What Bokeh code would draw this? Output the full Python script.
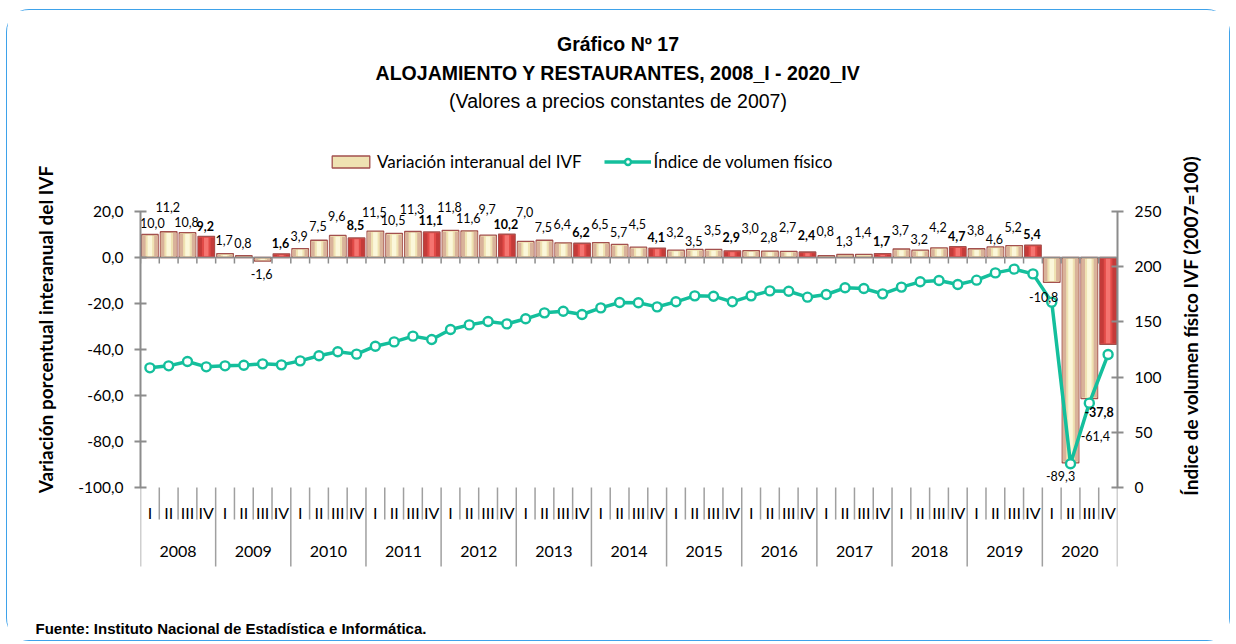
import math
from bokeh.plotting import figure
from bokeh.models import (Range1d, LinearAxis, FixedTicker, ColumnDataSource,
                          Legend, LegendItem, Title, Label)
from bokeh.core.properties import value
from bokeh.embed import file_html
from bokeh.resources import INLINE

# ---------------- data ----------------
years = ["2008", "2009", "2010", "2011", "2012", "2013", "2014",
         "2015", "2016", "2017", "2018", "2019", "2020"]
quarters = ["I", "II", "III", "IV"]

variacion_ivf = [10.0, 11.2, 10.8, 9.2,
                 1.7, 0.8, -1.6, 1.6,
                 3.9, 7.5, 9.6, 8.5,
                 11.5, 10.5, 11.3, 11.1,
                 11.8, 11.6, 9.7, 10.2,
                 7.0, 7.5, 6.4, 6.2,
                 6.5, 5.7, 4.5, 4.1,
                 3.2, 3.5, 3.5, 2.9,
                 3.0, 2.8, 2.7, 2.4,
                 0.8, 1.3, 1.4, 1.7,
                 3.7, 3.2, 4.2, 4.7,
                 3.8, 4.6, 5.2, 5.4,
                 -10.8, -89.3, -61.4, -37.8]

indice_ivf = [108.4, 110.2, 114.1, 109.3,
              110.2, 110.8, 112.0, 111.1,
              114.7, 119.3, 122.9, 120.8,
              128.0, 131.9, 137.1, 134.1,
              143.1, 147.3, 150.4, 148.2,
              152.8, 158.2, 159.7, 156.7,
              162.7, 167.6, 167.3, 163.6,
              168.2, 173.6, 173.3, 168.2,
              173.6, 178.1, 177.8, 172.4,
              174.8, 180.9, 180.3, 175.4,
              181.5, 186.3, 187.5, 183.9,
              187.8, 194.4, 197.8, 193.5,
              167.9, 21.5, 76.4, 120.5]

left_ticks = [-100, -80, -60, -40, -20, 0, 20]
left_tick_labels = ["-100,0", "-80,0", "-60,0", "-40,0", "-20,0", "0,0", "20,0"]
right_ticks = [0, 50, 100, 150, 200, 250]

# label placement tweaks (pixels above the bar end; negative = below)
label_dy = [12, 24.5, 10.5, 10,
            14, 12.5, -12.6, 10.6,
            13, 14, 19, 13,
            19, 13.5, 22.7, 12,
            23, 12.6, 26, 10,
            29, 13, 19, 11,
            18.7, 12, 23, 11,
            18, 8, 19, 13.6,
            23, 14, 24, 16.5,
            25, 14, 22, 13,
            19, 11, 20.6, 11,
            19, 8, 19, 11,
            -15, -13, -37, -68]
label_dx = [2.5] + [-1] * 47 + [-8, -10, 6, -9]

# ---------------- layout ----------------
OX, OY = 7, 10              # page position of the figure
W, H = 1222, 630
FL, FR = 133, 112           # frame borders (canvas px)
BB = 22                     # bottom panel (source note)
FH = H - BB
TOP_PX, BOT_PX = 211 - OY, 487 - OY   # canvas y of 20 and -100
PPU = (BOT_PX - TOP_PX) / 120.0
Y_TOP = 20 + TOP_PX / PPU
Y_BOT = -100 - (FH - BOT_PX) / PPU


def to_right(v):
    return (v + 100) * 250.0 / 120.0


N = len(variacion_ivf)
FW = W - FL - FR
XPU = FW / N


def pv(page_y):
    return 20 - ((page_y - OY) - TOP_PX) / PPU


def px(page_x):
    return ((page_x - OX) - FL) / XPU


p = figure(width=W, height=H, output_backend="svg", toolbar_location=None,
           x_range=Range1d(0, N), y_range=Range1d(Y_BOT, Y_TOP),
           x_axis_type=None, min_border_left=FL, min_border_right=FR,
           min_border_top=0, min_border_bottom=BB)
p.extra_y_ranges = {"right": Range1d(to_right(Y_BOT), to_right(Y_TOP))}
p.xgrid.visible = False
p.ygrid.visible = False
p.outline_line_color = None
p.background_fill_color = "white"
p.border_fill_color = "white"
p.styles = {"margin-left": f"{OX}px", "margin-top": f"{OY}px",
            "outline": "1.5px solid #3ea2ea", "border-radius": "22px"}

AXC = "#8c8c8c"
TEAL = "#14bf9c"

# left axis
ya = p.yaxis[0]
ya.ticker = FixedTicker(ticks=left_ticks)
ya.major_label_overrides = {t: l for t, l in zip(left_ticks, left_tick_labels)}
ya.bounds = (-100, 20)
ya.axis_line_color = AXC
ya.axis_line_width = 2
ya.major_tick_line_color = AXC
ya.major_tick_line_width = 2
ya.major_tick_in = 6
ya.major_tick_out = 6
ya.minor_tick_line_color = None
ya.major_label_text_font = "Lato"
ya.major_label_text_font_size = "15.5px"
ya.major_label_text_color = "black"
ya.major_label_standoff = 11

# left axis title, in its own side panel
p.add_layout(Label(x=-7, y=FH - (329 - OY), x_units="screen", y_units="screen",
                   text="Variación porcentual interanual del IVF",
                   angle=math.pi / 2, text_align="center",
                   text_baseline="middle", text_font="Lato",
                   text_font_style="bold", text_font_size="19px",
                   text_color="black"), "left")

# right axis
ra = LinearAxis(y_range_name="right", ticker=FixedTicker(ticks=right_ticks))
ra.bounds = (0, 250)
ra.axis_line_color = AXC
ra.axis_line_width = 2
ra.major_tick_line_color = AXC
ra.major_tick_line_width = 2
ra.major_tick_in = 6
ra.major_tick_out = 6
ra.minor_tick_line_color = None
ra.major_label_text_font = "Lato"
ra.major_label_text_font_size = "15.5px"
ra.major_label_text_color = "black"
ra.major_label_standoff = 11
p.add_layout(ra, "right")

# right axis title, reading bottom-to-top, in its own side panel
p.add_layout(Label(x=26, y=FH - (325 - OY), x_units="screen", y_units="screen",
                   text="Índice de volumen físico IVF (2007=100)",
                   angle=math.pi / 2, text_align="center",
                   text_baseline="middle", text_font="Lato",
                   text_font_style="bold", text_font_size="19px",
                   text_color="black"), "right")

# ---------------- bars ----------------
xs = [i + 0.5 for i in range(N)]
is_q4 = [(i % 4) == 3 for i in range(N)]
inset = 1.3 / PPU
itop, ibot = [], []
for v in variacion_ivf:
    s = 1 if v >= 0 else -1
    if abs(v) > 2.5 * inset:
        itop.append(v - s * inset)
        ibot.append(s * inset)
    else:
        itop.append(0)
        ibot.append(0)

src = ColumnDataSource(dict(
    x=xs, xl=[x - 0.33 for x in xs], xr=[x + 0.33 for x in xs],
    top=variacion_ivf, itop=itop, ibot=ibot,
    body=["#e24a47" if q else "#efe2b2" for q in is_q4],
    side=["#c43b39" if q else "#d9b29a" for q in is_q4],
    hi=["#f57470" if q else "#fbf7da" for q in is_q4],
))
bars = p.vbar(x="x", top="top", bottom=0, width=0.88, fill_color="body",
              line_color="#a3504e", line_width=1.3, source=src)
p.vbar(x="xl", top="itop", bottom="ibot", width=0.2, fill_color="side",
       line_color=None, source=src)
p.vbar(x="xr", top="itop", bottom="ibot", width=0.2, fill_color="side",
       line_color=None, source=src)
p.vbar(x="x", top="itop", bottom="ibot", width=0.24, fill_color="hi",
       line_color=None, source=src)

# zero axis with ticks
p.segment(x0=[0], y0=[0], x1=[N], y1=[0], line_color=AXC, line_width=1.6)
bx = list(range(N + 1))
p.segment(x0=bx, y0=[0] * len(bx), x1=bx, y1=[-6 / PPU] * len(bx),
          line_color=AXC, line_width=1.5)

# category separators
q_sep = [b for b in bx if b % 4 != 0]
y_sep = [b for b in bx if b % 4 == 0]
p.segment(x0=q_sep, y0=[-100] * len(q_sep), x1=q_sep, y1=[pv(519)] * len(q_sep),
          line_color="#a0a0a0", line_width=1.5)
p.segment(x0=y_sep, y0=[-100] * len(y_sep), x1=y_sep, y1=[pv(566)] * len(y_sep),
          line_color="#a0a0a0", line_width=1.5)

# category labels
p.text(x=xs, y=[pv(512)] * N, text=[quarters[i % 4] for i in range(N)],
       text_font=value("Lato"), text_font_size="16px", text_color="black",
       text_align="center", text_baseline="middle")
p.text(x=[4 * k + 2 for k in range(len(years))], y=[pv(551)] * len(years),
       text=years, text_font=value("Lato"), text_font_size="16px",
       text_color="black", text_align="center", text_baseline="middle")

# ---------------- line ----------------
line_r = p.line(xs, indice_ivf, y_range_name="right", line_color=TEAL,
                line_width=3.5)
pts_r = p.scatter(xs, indice_ivf, y_range_name="right", marker="circle",
                  size=9, fill_color="white", line_color=TEAL, line_width=2.4)

# ---------------- data labels ----------------
lab = [f"{v:.1f}".replace(".", ",") for v in variacion_ivf]
for bold in (False, True):
    idx = [i for i in range(N) if is_q4[i] == bold]
    s = ColumnDataSource(dict(
        x=[xs[i] for i in idx], y=[variacion_ivf[i] for i in idx],
        t=[lab[i] for i in idx], dx=[label_dx[i] for i in idx],
        dy=[-label_dy[i] for i in idx]))
    p.text(x="x", y="y", text="t", x_offset="dx", y_offset="dy", source=s,
           text_font=value("Lato"), text_font_size="12.5px",
           text_font_style="bold" if bold else "normal", text_color="black",
           text_align="center", text_baseline="middle")

# ---------------- titles ----------------
tx = px(617.5)
p.text(x=[tx], y=[pv(43)], text=["Gráfico Nº 17"],
       text_font=value("Liberation Sans"), text_font_style="bold",
       text_font_size="19.5px", text_align="center", text_baseline="middle",
       text_color="black")
p.text(x=[tx], y=[pv(72)], text=["ALOJAMIENTO Y RESTAURANTES, 2008_I - 2020_IV"],
       text_font=value("Liberation Sans"), text_font_style="bold",
       text_font_size="19.5px", text_align="center", text_baseline="middle",
       text_color="black")
p.text(x=[tx], y=[pv(100)], text=["(Valores a precios constantes de 2007)"],
       text_font=value("Liberation Sans"), text_font_size="19.5px",
       text_align="center", text_baseline="middle", text_color="black")

# ---------------- legend ----------------
legend = Legend(items=[
    LegendItem(label="Variación interanual del IVF", renderers=[bars], index=0),
    LegendItem(label="Índice de volumen físico", renderers=[line_r, pts_r]),
], orientation="horizontal", location=(327 - 140, FH - (172 - OY)),
    glyph_width=47, glyph_height=15, label_text_font="Lato",
    label_text_font_size="17px", label_text_color="black",
    label_standoff=3, spacing=22, padding=0, margin=0,
    border_line_color=None, background_fill_alpha=0)
p.add_layout(legend)

# ---------------- source note ----------------
p.add_layout(Title(text="Fuente: Instituto Nacional de Estadística e Informática.",
                   align="left", offset=35 - 140, vertical_align="middle",
                   standoff=0, text_font="Liberation Sans",
                   text_font_style="bold", text_font_size="15px",
                   text_color="black"), "below")

open("out.html", "w").write(file_html(p, INLINE))
